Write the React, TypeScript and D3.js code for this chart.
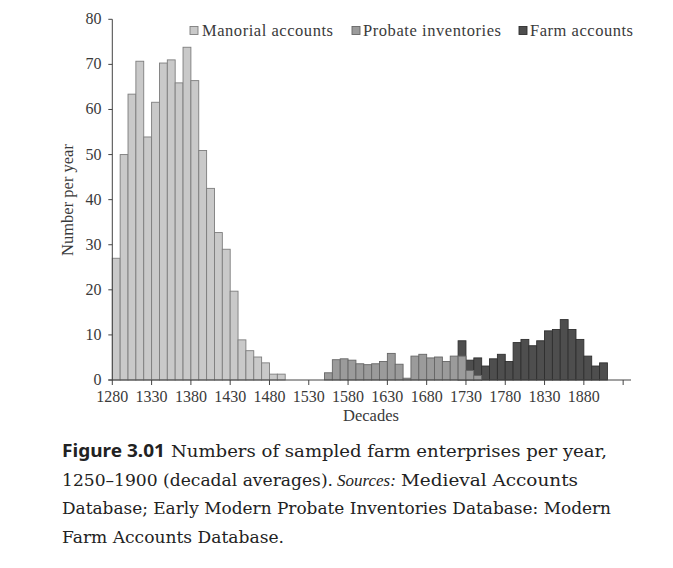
import React from 'react';
import * as d3 from 'd3';

// Decades on the category axis (one band per decade)
const decades: number[] = d3.range(1280, 1940, 10);

// Manorial accounts, starting 1280s
const manorialStart = 1280;
const manorial = [27.0, 50.0, 63.4, 70.7, 53.9, 61.6, 70.3, 71.0, 65.9, 73.8, 66.4, 50.9, 42.5, 32.7, 29.0, 19.7, 8.9, 6.5, 5.1, 3.8, 1.3, 1.3];

// Probate inventories, starting 1550s
const probateStart = 1550;
const probate = [1.6, 4.5, 4.7, 4.4, 3.6, 3.4, 3.6, 4.1, 5.9, 3.5, 0.4, 5.3, 5.7, 4.9, 5.1, 4.1, 5.3, 5.3, 2.1, 1.0];

// Farm accounts, starting 1720s
const farmStart = 1720;
const farm = [8.7, 4.4, 4.9, 3.1, 4.7, 5.7, 4.1, 8.3, 9.0, 7.6, 8.7, 10.9, 11.2, 13.4, 11.2, 9.0, 5.3, 3.1, 3.8];

const xTickDecades = [1280, 1330, 1380, 1430, 1480, 1530, 1580, 1630, 1680, 1730, 1780, 1830, 1880, 1930];
const xTickLabels = ['1280', '1330', '1380', '1430', '1480', '1530', '1580', '1630', '1680', '1730', '1780', '1830', '1880', ''];
const yTicks = [0, 10, 20, 30, 40, 50, 60, 70, 80];

const seriesNames = ['Manorial accounts', 'Probate inventories', 'Farm accounts'];

const W = 673;
const H = 568;

const COLORS = {
  manorial: { fill: '#c9c9c9', stroke: '#7d7d7d' },
  probate: { fill: '#9b9b9b', stroke: '#666666' },
  farm: { fill: '#4e4e4e', stroke: '#2f2f2f' },
};

const serif = '"Liberation Serif", "Times New Roman", serif';
const capSerif = '"DejaVu Serif", serif';

export default function App() {
  const x = d3.scaleBand<number>().domain(decades).range([112.3, 631]).paddingInner(0).paddingOuter(0);
  const y = d3.scaleLinear().domain([0, 80]).range([380, 19.3]);
  const bw = x.bandwidth();

  const toBars = (vals: number[], start: number) =>
    vals.map((v, i) => ({ d: start + i * 10, v }));

  const drawSeries = (vals: number[], start: number, c: { fill: string; stroke: string }, key: string) =>
    toBars(vals, start).map((b) => (
      <rect
        key={key + b.d}
        x={(x(b.d) as number)}
        y={y(b.v)}
        width={bw}
        height={y(0) - y(b.v)}
        fill={c.fill}
        stroke={c.stroke}
        strokeWidth={0.9}
      />
    ));

  const axisColor = '#444';
  const textColor = '#3a3a3a';
  const x0 = x.range()[0];
  const x1 = x.range()[1];

  const legendItems = [
    { name: seriesNames[0], c: COLORS.manorial, sx: 190, tx: 202, tl: 131 },
    { name: seriesNames[1], c: COLORS.probate, sx: 352, tx: 363, tl: 138 },
    { name: seriesNames[2], c: COLORS.farm, sx: 519, tx: 530, tl: 103 },
  ];

  return (
    <div style={{ position: 'absolute', left: 0, top: 0 }}>
      <svg width={W} height={H} viewBox={`0 0 ${W} ${H}`} style={{ display: 'block', background: '#fff' }}>
        {/* bars */}
        <g>
          {drawSeries(farm, farmStart, COLORS.farm, 'f')}
          {drawSeries(probate, probateStart, COLORS.probate, 'p')}
          {drawSeries(manorial, manorialStart, COLORS.manorial, 'm')}
        </g>

        {/* y axis */}
        <line x1={x0} x2={x0} y1={y(80)} y2={y(0)} stroke={axisColor} strokeWidth={1} />
        {yTicks.map((t) => (
          <g key={'y' + t}>
            <line x1={x0 - 4} x2={x0} y1={y(t)} y2={y(t)} stroke={axisColor} strokeWidth={1} />
            <text x={101.5} y={y(t) + 5} textAnchor="end" fontFamily={serif} fontSize={16} fill={textColor}>
              {t}
            </text>
          </g>
        ))}

        {/* x axis */}
        <line x1={x0 - 4} x2={x1} y1={y(0)} y2={y(0)} stroke={axisColor} strokeWidth={1} />
        {xTickDecades.map((d, i) => {
          const px = x(d) as number;
          return (
            <g key={'x' + d}>
              <line x1={px} x2={px} y1={y(0)} y2={y(0) + 5} stroke={axisColor} strokeWidth={1} />
              {xTickLabels[i] && (
                <text x={px} y={402} textAnchor="middle" fontFamily={serif} fontSize={16} fill={textColor}>
                  {xTickLabels[i]}
                </text>
              )}
            </g>
          );
        })}

        {/* axis titles */}
        <text x={371} y={421} textAnchor="middle" fontFamily={serif} fontSize={16.5} fill={textColor}>
          Decades
        </text>
        <text
          transform={`translate(73, 200) rotate(-90)`}
          textAnchor="middle"
          fontFamily={serif}
          fontSize={16.5}
          fill={textColor}
        >
          Number per year
        </text>

        {/* legend */}
        {legendItems.map((l) => (
          <g key={l.name}>
            <rect x={l.sx} y={26.5} width={8} height={8} fill={l.c.fill} stroke={l.c.stroke} strokeWidth={0.9} />
            <text x={l.tx} y={36} fontFamily={serif} fontSize={16.5} fill={textColor} textLength={l.tl} lengthAdjust="spacing">
              {l.name}
            </text>
          </g>
        ))}

        {/* caption */}
        <g fill="#222" fontSize={16}>
          <text x={62} y={457} fontFamily='"Noto Sans", sans-serif' fontWeight="bold" fontSize={17} textLength={103} lengthAdjust="spacingAndGlyphs">
            Figure 3.01
          </text>
          <text x={171} y={457} fontFamily={capSerif} textLength={436} lengthAdjust="spacingAndGlyphs">
            Numbers of sampled farm enterprises per year,
          </text>
          <text x={62} y={485.5} fontFamily={capSerif} textLength={271} lengthAdjust="spacingAndGlyphs">
            1250–1900 (decadal averages).
          </text>
          <text x={337} y={485.5} fontFamily={serif} fontStyle="italic" fontSize={17}>
            Sources:
          </text>
          <text x={401} y={485.5} fontFamily={capSerif} textLength={177} lengthAdjust="spacingAndGlyphs">
            Medieval Accounts
          </text>
          <text x={62} y={514} fontFamily={capSerif} textLength={549} lengthAdjust="spacingAndGlyphs">
            Database; Early Modern Probate Inventories Database: Modern
          </text>
          <text x={62} y={542.5} fontFamily={capSerif} textLength={222} lengthAdjust="spacingAndGlyphs">
            Farm Accounts Database.
          </text>
        </g>
      </svg>
    </div>
  );
}
